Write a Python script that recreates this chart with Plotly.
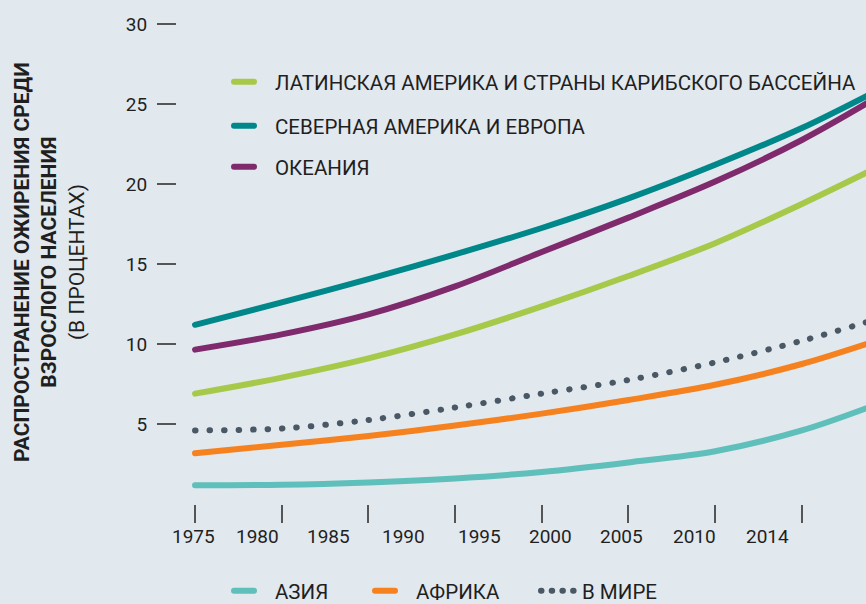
import plotly.graph_objects as go

# ---- data ----
years = [1975, 1980, 1985, 1990, 1995, 2000, 2005, 2010, 2014]
latam = [6.9, 7.9, 9.1, 10.6, 12.35, 14.25, 16.3, 18.75, 20.85]
na_europe = [11.2, 12.6, 14.05, 15.6, 17.25, 19.1, 21.2, 23.5, 25.65]
oceania = [9.65, 10.6, 11.85, 13.6, 15.75, 17.9, 20.15, 22.75, 25.2]
asia = [1.17, 1.2, 1.35, 1.6, 2.0, 2.6, 3.3, 4.6, 6.1]
africa = [3.17, 3.7, 4.25, 4.9, 5.65, 6.5, 7.45, 8.75, 10.1]
world = [4.6, 4.72, 5.25, 6.03, 6.9, 7.75, 8.85, 10.2, 11.45]

series_names = [
    "ЛАТИНСКАЯ АМЕРИКА И СТРАНЫ КАРИБСКОГО БАССЕЙНА",
    "СЕВЕРНАЯ АМЕРИКА И ЕВРОПА",
    "ОКЕАНИЯ",
    "АЗИЯ",
    "АФРИКА",
    "В МИРЕ",
]

x_tick_years = [1975, 1980, 1985, 1990, 1995, 2000, 2005, 2010]
x_label_text = ["1975", "1980", "1985", "1990", "1995", "2000", "2005", "2010", "2014"]
y_tick_vals = [5, 10, 15, 20, 25, 30]

# ---- layout / style ----
FONT = "Roboto, 'Noto Sans', sans-serif"
BG = "#e1e8ee"
TXT = "#1f1f1f"
colors = ["#a6c94a", "#00878a", "#7e2a6c", "#5fbfba", "#f5821f", "#4a5765"]
dashes = ["solid"] * 5 + ["0.5px,14px"]
legend_ids = ["legend", "legend2", "legend3", "legend4", "legend5", "legend6"]
values = [latam, na_europe, oceania, asia, africa, world]

# label positions (in years) of the x tick texts, which sit off the tick marks
x_label_pos = [1974.9, 1978.6, 1982.7, 1987.05, 1991.4, 1995.5, 1999.6, 2003.8, 2008.0]

W, H = 866, 604
L, R, T, B = 177, 0, 24, 100
pw, ph = W - L - R, H - T - B


def px_x(p):
    return (p - L) / pw


def px_y(p):
    return (H - B - p) / ph


fig = go.Figure()
for name, vals, col, dash, lg in zip(series_names, values, colors, dashes, legend_ids):
    fig.add_trace(go.Scatter(
        x=years, y=vals, name=name, mode="lines",
        line=dict(color=col, width=6, dash=dash, shape="spline", smoothing=0.9),
        legend=lg, hoverinfo="skip",
    ))

legend_pos = [
    (229, 82), (229, 126), (229, 167),
    (229, 591), (370, 591), (536, 591),
]
leg_common = dict(
    bgcolor="rgba(0,0,0,0)", borderwidth=0, itemwidth=36,
    font=dict(family=FONT, size=20.5, color=TXT),
    xanchor="left", yanchor="middle",
)
legend_layout = {}
for lg, (lx, ly) in zip(legend_ids, legend_pos):
    legend_layout[lg] = dict(x=px_x(lx), y=px_y(ly), **leg_common)

annotations = []
for lbl, pos in zip(x_label_text, x_label_pos):
    annotations.append(dict(
        x=pos, y=0, xref="x", yref="paper", text=lbl, showarrow=False,
        yshift=-32, xanchor="center", yanchor="middle",
        font=dict(family=FONT, size=19, color=TXT),
    ))

annotations.append(dict(
    x=px_x(49), y=px_y(262), xref="paper", yref="paper",
    text="<b>РАСПРОСТРАНЕНИЕ ОЖИРЕНИЯ СРЕДИ</b><br><b>ВЗРОСЛОГО НАСЕЛЕНИЯ</b><br>(В ПРОЦЕНТАХ)",
    textangle=-90, showarrow=False, xanchor="center", yanchor="middle",
    align="center", font=dict(family=FONT, size=21, color=TXT),
))

fig.update_layout(
    width=W, height=H,
    margin=dict(l=L, r=R, t=T, b=B, autoexpand=False),
    paper_bgcolor=BG, plot_bgcolor=BG,
    font=dict(family=FONT, color=TXT),
    showlegend=True,
    annotations=annotations,
    xaxis=dict(
        range=[1973.96, 2013.7], tickvals=x_tick_years, showticklabels=False,
        ticks="outside", ticklen=18, tickwidth=1.5, tickcolor="#555555",
        showgrid=False, zeroline=False, showline=False, fixedrange=True,
    ),
    yaxis=dict(
        range=[0, 30], tickvals=y_tick_vals,
        ticks="outside", ticklen=19, tickwidth=1.5, tickcolor="#555555",
        tickfont=dict(family=FONT, size=19, color=TXT),
        ticklabelstandoff=6,
        showgrid=False, zeroline=False, showline=False, fixedrange=True,
    ),
    **legend_layout,
)

css = (
    ".js-line{stroke-linecap:round !important;stroke-linejoin:round !important;}"
    ".legendlines .js-line{stroke-dasharray:20px 200px;}"
    ".legendlines .js-line[style*=\"14px\"]{stroke-dasharray:0.5px 10.2px !important;}"
)
css_js = (
    "document.body.style.margin='0';"
    "document.body.style.background='" + BG + "';"
    "var s=document.createElement('style');"
    "s.innerHTML='" + css + "';"
    "document.head.appendChild(s);"
)
fig.write_html("out.html", post_script=css_js, config={"displayModeBar": False})
